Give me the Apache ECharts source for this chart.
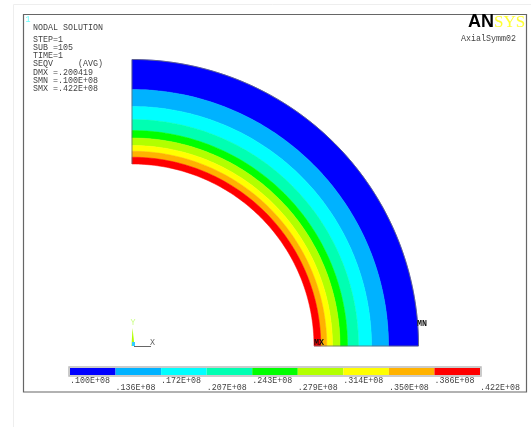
<!DOCTYPE html>
<html><head><meta charset="utf-8">
<style>html,body{margin:0;padding:0;background:#fff}#c{width:531px;height:427px}</style>
<script src="https://cdn.jsdelivr.net/npm/echarts@6/dist/echarts.min.js"></script>
</head><body><div id="c"></div>
<script>
const bandColors = ['#0000ff','#00b2ff','#00ffff','#00ffb2','#00ff00','#b2ff00','#ffff00','#ffb200','#ff0000'];
// contour boundaries (radius, outer to inner, drawing units)
const contourRadii = [286.5,256.5,239.5,226.5,215.5,208,200.5,194.8,188.8,182];
const tickLabels = ['.100E+08','.136E+08','.172E+08','.207E+08','.243E+08','.279E+08','.314E+08','.350E+08','.386E+08','.422E+08'];
const infoLines = ['STEP=1','SUB =105','TIME=1','SEQV     (AVG)','DMX =.200419','SMN =.100E+08','SMX =.422E+08'];
const MONO = '"Liberation Mono","DejaVu Sans Mono",monospace';
const GREY = '#666a77';

const bandData = bandColors.map((c,i)=>[contourRadii[i+1],contourRadii[i],i]);
const legendData = bandColors.map((c,i)=>[i,i+1,i]);

function arcPts(api,r,a0,a1){
  const n=90,p=[];
  for(let k=0;k<=n;k++){const a=a0+(a1-a0)*k/n;p.push(api.coord([r*Math.cos(a),r*Math.sin(a)]));}
  return p;
}
function renderBand(params,api){
  const r0=api.value(0),r1=api.value(1),i=api.value(2);
  const pts=arcPts(api,r1,Math.PI/2,0).concat(arcPts(api,r0,0,Math.PI/2));
  return {type:'polygon',shape:{points:pts},style:{fill:bandColors[i],stroke:bandColors[i],lineWidth:0.5}};
}
function renderOutline(params,api){
  const r0=contourRadii[contourRadii.length-1],r1=contourRadii[0];
  // left edge, outer arc, bottom edge; the inner arc has no visible outline
  const pts=[api.coord([0,r0])].concat(arcPts(api,r1,Math.PI/2,0));
  pts.push(api.coord([r0,0]));
  return {type:'polyline',shape:{points:pts},style:{fill:null,stroke:GREY,lineWidth:0.8}};
}
function renderLegend(params,api){
  const a=api.coord([api.value(0),0]),b=api.coord([api.value(1),1]);
  return {type:'rect',shape:{x:a[0],y:b[1],width:b[0]-a[0],height:a[1]-b[1]},style:{fill:bandColors[api.value(2)]}};
}
const txt=(x,y,t,o={})=>({type:'text',z:20,x,y,silent:true,style:Object.assign({text:t,font:'8.33px '+MONO,fill:'#444',verticalAlign:'middle',align:'left'},o)});

const chart=echarts.init(document.getElementById('c'),null,{renderer:'canvas'});
chart.setOption({
  animation:false,backgroundColor:'#fff',
  grid:[
    {left:132,top:59,width:287,height:287},
    {left:70,top:368,width:410,height:7}
  ],
  xAxis:[
    {gridIndex:0,type:'value',min:0,max:287,show:false},
    {gridIndex:1,type:'value',min:0,max:9,interval:1,
      axisLine:{show:false},splitLine:{show:false},
      axisTick:{show:true,length:2,lineStyle:{color:'#ccc'}},
      axisLabel:{show:true,showMinLabel:true,showMaxLabel:true,hideOverlap:false,margin:2,
        color:'#444',fontFamily:MONO,fontSize:8.33,align:'left',lineHeight:7,
        formatter:v=>v%2?'\n'+tickLabels[v]:tickLabels[v]+'\n'}}
  ],
  yAxis:[
    {gridIndex:0,type:'value',min:0,max:287,show:false},
    {gridIndex:1,type:'value',min:0,max:1,show:false}
  ],
  series:[
    {type:'custom',xAxisIndex:0,yAxisIndex:0,coordinateSystem:'cartesian2d',renderItem:renderBand,data:bandData,clip:false,silent:true},
    {type:'custom',xAxisIndex:0,yAxisIndex:0,coordinateSystem:'cartesian2d',renderItem:renderOutline,data:[[0,0]],clip:false,silent:true},
    {type:'custom',xAxisIndex:1,yAxisIndex:1,coordinateSystem:'cartesian2d',renderItem:renderLegend,data:legendData,clip:false,silent:true}
  ],
  graphic:{elements:[
    {type:'rect',z:-5,silent:true,shape:{x:13.5,y:4.5,width:520,height:425},style:{fill:'#fff',stroke:'#eeeeee',lineWidth:1}},
    {type:'rect',z:-4,silent:true,shape:{x:23.5,y:14.5,width:503,height:377.5},style:{fill:'#fff',stroke:'#666',lineWidth:1.2}},
    {type:'rect',z:-3,silent:true,shape:{x:69,y:367,width:412,height:9},style:{fill:'none',stroke:'#bbb',lineWidth:1.5}},
    txt(25.5,20,'1',{fill:'#66ffff'}),
    txt(33,28,'NODAL SOLUTION'),
    ...infoLines.map((t,i)=>txt(33,39.5+i*8.2,t)),
    txt(494,22.5,'AN',{font:'bold 18px "Liberation Sans",sans-serif',fill:'#000',align:'right'}),
    txt(494,22.5,'SYS',{font:'17px "Liberation Serif",serif',fill:'#ffff33'}),
    txt(461,38.5,'AxialSymm02'),
    txt(417,324,'MN',{fill:'#111',font:'bold 8.33px '+MONO}),
    txt(314,343,'MX',{fill:'#111',font:'bold 8.33px '+MONO}),
    txt(130.5,323,'Y',{fill:'#ccff88'}),
    txt(150,343,'X',{fill:'#666'}),
    {type:'polygon',z:20,silent:true,shape:{points:[[132.5,328],[134.5,346],[131.5,346]]},style:{fill:'#b2ff00'}},
    {type:'rect',z:20,silent:true,shape:{x:132,y:342,width:3,height:4},style:{fill:'#33ccff'}},
    {type:'line',z:20,silent:true,shape:{x1:134,y1:346.5,x2:151,y2:346.5},style:{stroke:'#666',lineWidth:1}}
  ]}
});
</script></body></html>
